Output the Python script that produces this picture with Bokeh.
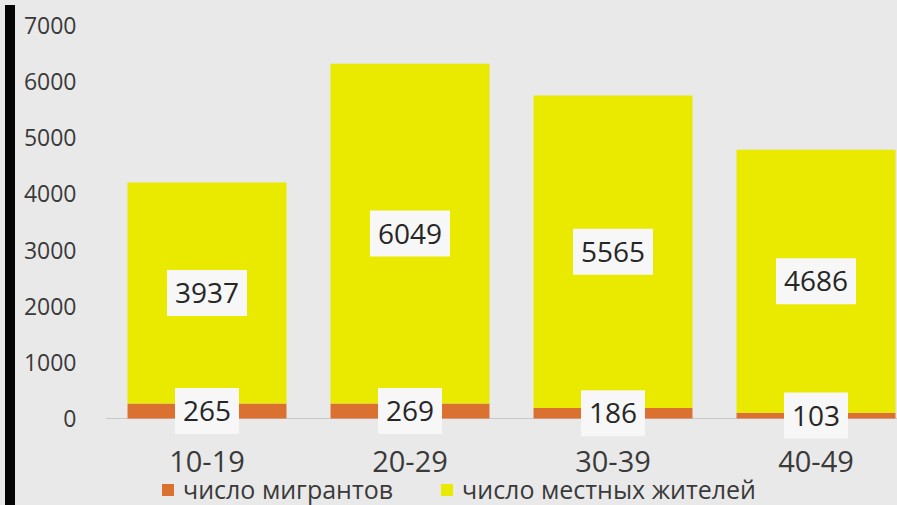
from bokeh.plotting import figure
from bokeh.layouts import row
from bokeh.models import Range1d, FixedTicker, Span, Legend, LegendItem, Div
from bokeh.embed import file_html
from bokeh.resources import INLINE
from bokeh.core.properties import value

categories = ["10-19", "20-29", "30-39", "40-49"]
migrants = [265, 269, 186, 103]
locals_ = [3937, 6049, 5565, 4686]
y_ticks = [0, 1000, 2000, 3000, 4000, 5000, 6000, 7000]
series_names = ["число мигрантов", "число местных жителей"]

BG = "#e9e9e9"
ORANGE = "#db7130"
YELLOW = "#e9ea00"
TXT = "#3a3a3a"
FONT = "Open Sans"

xs = [i + 0.5 for i in range(len(categories))]
tops = [m + l for m, l in zip(migrants, locals_)]
mig_mid = [m / 2 for m in migrants]
loc_mid = [m + l / 2 for m, l in zip(migrants, locals_)]

# dark strip at the left edge of the screenshot
strip = Div(text="", width=10, height=505, styles={"background-color": "#050505"})

p = figure(width=877, height=505, output_backend="svg", toolbar_location=None,
           x_range=Range1d(0, 3.9015), y_range=Range1d(-1550, 7000),
           min_border_left=85, min_border_right=0, min_border_top=25, min_border_bottom=0,
           background_fill_color=BG, border_fill_color=BG)
p.outline_line_color = None
p.xgrid.visible = False
p.ygrid.visible = False
p.xaxis.visible = False

p.add_layout(Span(location=0, dimension="width", line_color="#c8c8c8", line_width=1, level="underlay"))

r_mig = p.vbar(x=xs, bottom=0, top=migrants, width=0.783, fill_color=ORANGE, line_color=None)
r_loc = p.vbar(x=xs, bottom=migrants, top=tops, width=0.783, fill_color=YELLOW, line_color=None)

def box_w(vals):
    return [len(str(v)) * 16 + 16 for v in vals]

p.rect(x=xs, y=loc_mid, width=box_w(locals_), height=46, width_units="screen", height_units="screen",
       fill_color="#f7f7f7", line_color=None)
p.rect(x=xs, y=mig_mid, width=box_w(migrants), height=46, width_units="screen", height_units="screen",
       fill_color="#f7f7f7", line_color=None)
p.text(x=xs, y=loc_mid, text=[str(v) for v in locals_], text_align="center", text_baseline="middle",
       text_font=value(FONT), text_font_size="28px", text_color="#262626")
p.text(x=xs, y=mig_mid, text=[str(v) for v in migrants], text_align="center", text_baseline="middle",
       text_font=value(FONT), text_font_size="28px", text_color="#262626")

# category labels (x axis drawn inside the frame)
p.text(x=xs, y=[-770] * len(xs), text=categories, text_align="center", text_baseline="middle",
       text_font=value(FONT), text_font_size="29px", text_color=TXT)

p.yaxis.ticker = FixedTicker(ticks=y_ticks)
p.yaxis.axis_line_color = None
p.yaxis.major_tick_line_color = None
p.yaxis.minor_tick_line_color = None
p.yaxis.major_tick_out = 0
p.yaxis.major_label_standoff = 29
p.yaxis.major_label_text_font = FONT
p.yaxis.major_label_text_font_size = "23px"
p.yaxis.major_label_text_color = TXT

legend = Legend(items=[LegendItem(label=series_names[0], renderers=[r_mig]),
                       LegendItem(label=series_names[1], renderers=[r_loc])],
                location=(55, -1), orientation="horizontal",
                glyph_width=15, glyph_height=15, label_standoff=8, spacing=46,
                padding=0, margin=0, border_line_color=None, background_fill_alpha=0,
                label_text_font=FONT, label_text_font_size="25px", label_text_color=TXT)
p.add_layout(legend, "center")

layout = row(strip, p, spacing=0, styles={"background-color": BG})
open("out.html", "w").write(file_html(layout, INLINE))
